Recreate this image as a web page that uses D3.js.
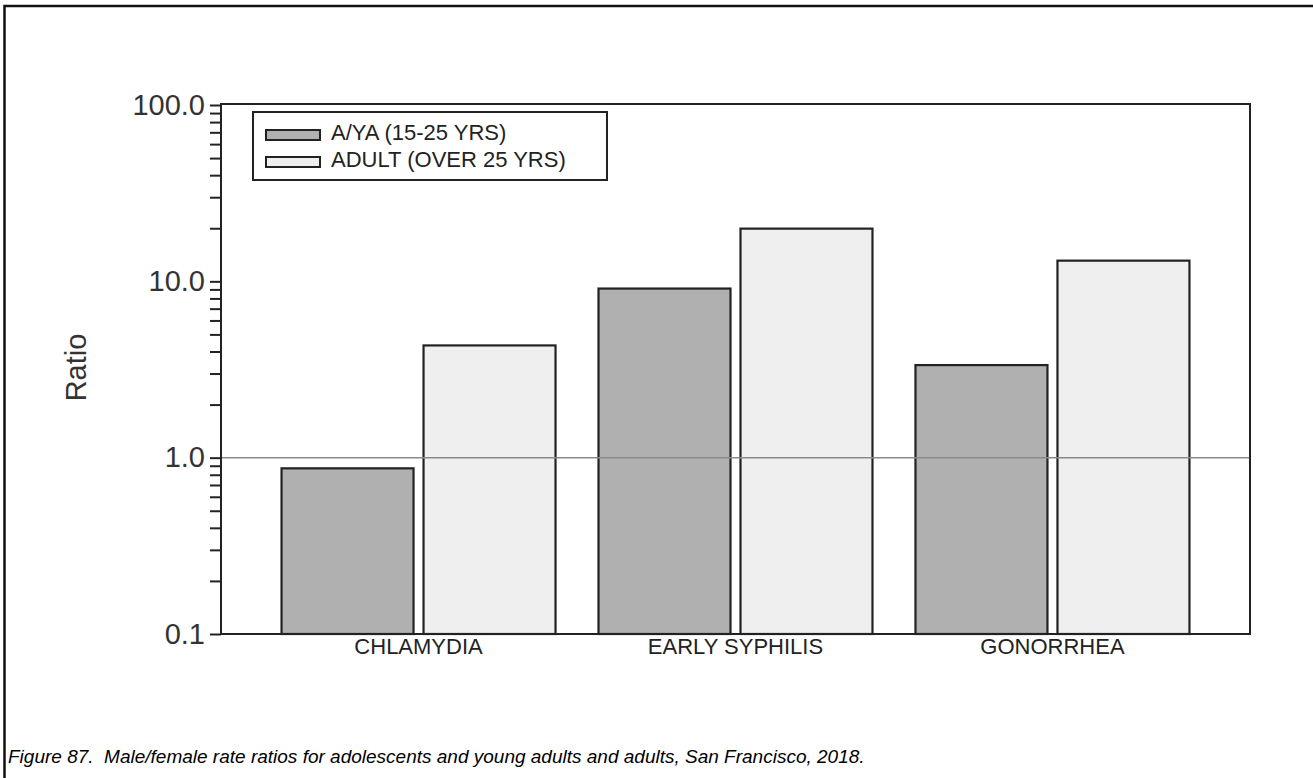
<!DOCTYPE html>
<html>
<head>
<meta charset="utf-8">
<script src="https://cdn.jsdelivr.net/npm/d3@7"></script>
<style>
  html, body { margin: 0; padding: 0; background: #fff; overflow: hidden; }
  svg { display: block; font-family: Arial, "Liberation Sans", sans-serif; }
</style>
</head>
<body>
<svg id="chart" width="1313" height="778"></svg>
<script>
// ---- data ----
const categories = ["CHLAMYDIA", "EARLY SYPHILIS", "GONORRHEA"];
const seriesNames = ["A/YA (15-25 YRS)", "ADULT (OVER 25 YRS)"];
const ayaValues = [0.87, 9.1, 3.35];
const adultValues = [4.33, 19.9, 13.1];
const yTickLabels = [0.1, 1, 10, 100];
const yTitle = "Ratio";
const caption = "Figure 87.  Male/female rate ratios for adolescents and young adults and adults, San Francisco, 2018.";

// ---- layout ----
const svg = d3.select("#chart");
const plot = { left: 221, right: 1250, top: 105, bottom: 634 };
const colors = ["#b0b0b0", "#efefef"];
const ink = "#222";

// outer figure frame (only left and top edges visible in the figure)
svg.append("path")
  .attr("d", "M4.5,778 V6 H1313")
  .attr("fill", "none").attr("stroke", "#111").attr("stroke-width", 2.5);

const y = d3.scaleLog().domain([0.1, 100]).range([plot.bottom, plot.top]);
const x0 = d3.scaleBand().domain(categories).range([plot.left, plot.right])
  .paddingInner(0.1356).paddingOuter(0.191);
const x1 = d3.scaleBand().domain(seriesNames).range([0, x0.bandwidth()])
  .paddingInner(0.0704);

const rows = categories.map((c, i) => ({
  cat: c,
  vals: [
    { s: seriesNames[0], v: ayaValues[i], c: colors[0] },
    { s: seriesNames[1], v: adultValues[i], c: colors[1] }
  ]
}));

// bars
const g = svg.append("g");
g.selectAll("g.grp").data(rows).join("g")
  .attr("class", "grp")
  .attr("transform", d => `translate(${x0(d.cat)},0)`)
  .selectAll("rect").data(d => d.vals).join("rect")
  .attr("x", d => x1(d.s))
  .attr("y", d => y(d.v))
  .attr("width", x1.bandwidth())
  .attr("height", d => y(0.1) - y(d.v))
  .attr("fill", d => d.c)
  .attr("stroke", ink)
  .attr("stroke-width", 2.2);

// reference line at 1.0
svg.append("line")
  .attr("x1", plot.left).attr("x2", plot.right)
  .attr("y1", y(1)).attr("y2", y(1))
  .attr("stroke", "#8a8a8a").attr("stroke-width", 1.5);

// plot frame
svg.append("rect")
  .attr("x", plot.left).attr("y", y(100) - 1)
  .attr("width", plot.right - plot.left)
  .attr("height", plot.bottom - y(100) + 1)
  .attr("fill", "none").attr("stroke", ink).attr("stroke-width", 2);

// y axis
const yAxis = d3.axisLeft(y)
  .ticks(10)
  .tickSize(11)
  .tickPadding(5)
  .tickFormat(d => yTickLabels.some(t => Math.abs(t - d) < 1e-9) ? d3.format(".1f")(d) : "");
const ya = svg.append("g").attr("transform", `translate(${plot.left},0)`).call(yAxis);
ya.select(".domain").remove();
ya.selectAll(".tick line").attr("stroke", ink).attr("stroke-width", 2);
ya.selectAll(".tick text")
  .attr("font-size", 29).attr("fill", "#333")
  .attr("font-family", "Arial, 'Liberation Sans', sans-serif");

// x axis labels
const xAxis = d3.axisBottom(x0).tickSize(0).tickPadding(0);
const xa = svg.append("g").attr("transform", `translate(0,${plot.bottom})`).call(xAxis);
xa.select(".domain").remove();
xa.selectAll(".tick text")
  .attr("font-size", 22).attr("fill", ink).attr("dy", null).attr("y", 20)
  .attr("font-family", "Arial, 'Liberation Sans', sans-serif");

// y title
svg.append("text")
  .attr("transform", `translate(86,${(y(0.1) + y(100)) / 2 - 2}) rotate(-90)`)
  .attr("text-anchor", "middle")
  .attr("font-size", 29).attr("fill", "#333")
  .text(yTitle);

// legend
const leg = svg.append("g");
leg.append("rect")
  .attr("x", 253).attr("y", 112).attr("width", 354).attr("height", 68)
  .attr("fill", "#fff").attr("stroke", ink).attr("stroke-width", 2);
const items = leg.selectAll("g.item").data(seriesNames).join("g")
  .attr("class", "item")
  .attr("transform", (d, i) => `translate(0,${i * 27})`);
items.append("rect")
  .attr("x", 266).attr("y", 130).attr("width", 54).attr("height", 10)
  .attr("fill", (d, i) => colors[i]).attr("stroke", ink).attr("stroke-width", 2);
items.append("text")
  .attr("x", 331).attr("y", 140)
  .attr("font-size", 22).attr("fill", ink)
  .text(d => d);

// caption
svg.append("text")
  .attr("x", 8).attr("y", 763)
  .attr("font-size", 19).attr("font-style", "italic").attr("fill", "#000")
  .attr("xml:space", "preserve")
  .style("white-space", "pre")
  .text(caption);
</script>
</body>
</html>
